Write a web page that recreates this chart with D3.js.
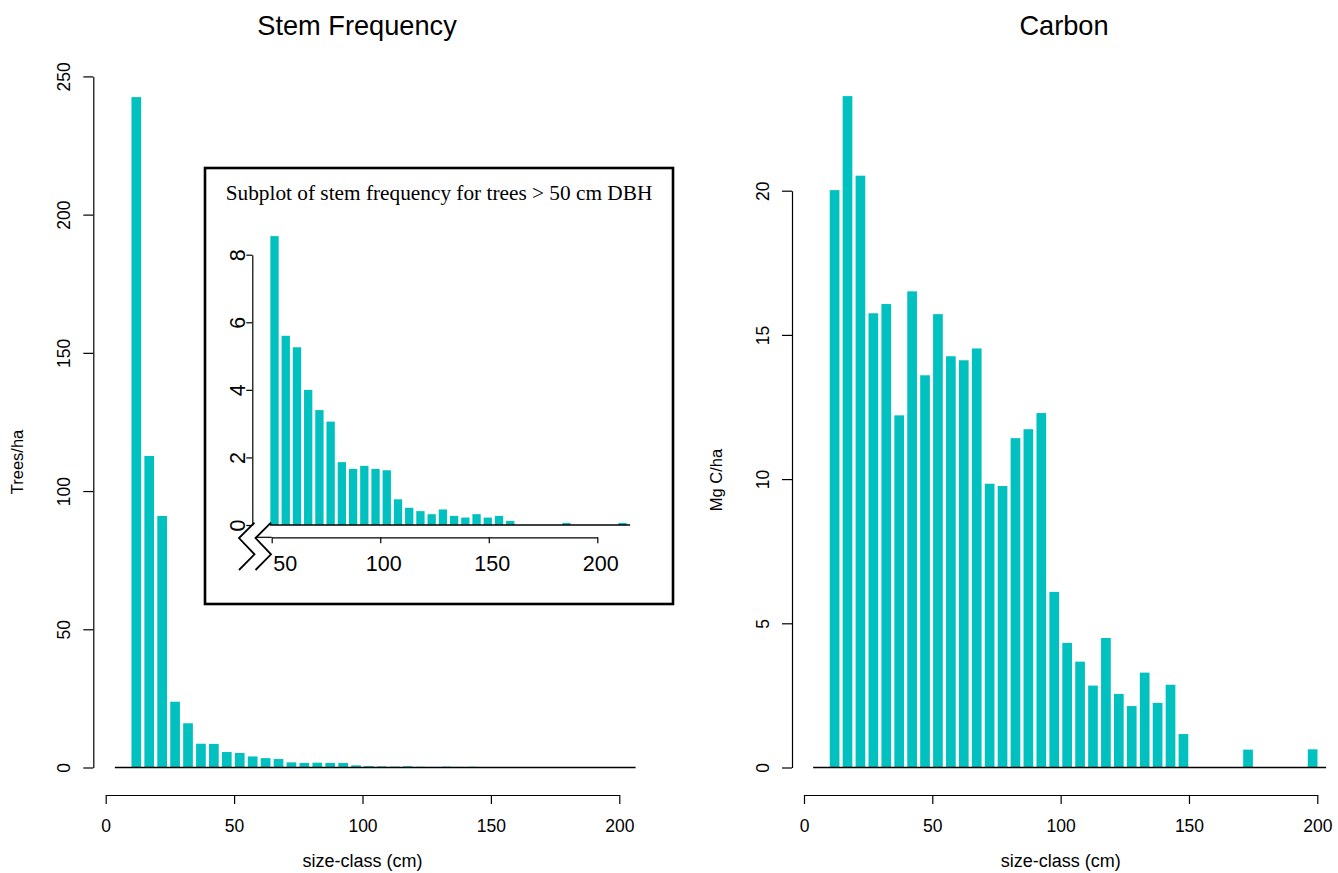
<!DOCTYPE html>
<html>
<head>
<meta charset="utf-8">
<script src="https://cdn.jsdelivr.net/npm/d3@7"></script>
<style>
  body { margin: 0; background: #fff; }
  text { font-family: "Liberation Sans", Arial, sans-serif; fill: #000; }
  .serif { font-family: "Liberation Serif", "Times New Roman", serif; }
</style>
</head>
<body>
<div id="chart"></div>
<script>
// size classes (cm, lower bound of each 5 cm class)
const classes = [10, 15, 20, 25, 30, 35, 40, 45, 50, 55, 60, 65, 70, 75, 80, 85, 90, 95, 100,
  105, 110, 115, 120, 125, 130, 135, 140, 145, 150, 155, 160, 165, 170, 175, 180, 185, 190, 195];

// trees per hectare in each class
const stems = [242.5, 112.7, 91, 23.8, 16, 8.6, 8.55, 5.6, 5.26, 4.0, 3.4, 3.06, 1.86, 1.66,
  1.75, 1.66, 1.62, 0.76, 0.51, 0.41, 0.32, 0.46, 0.27, 0.22, 0.32, 0.22, 0.27, 0.12,
  0, 0, 0, 0, 0.06, 0, 0, 0, 0, 0.06];

// carbon, Mg C per hectare in each class
const carbon = [20.02, 23.28, 20.52, 15.75, 16.07, 12.21, 16.51, 13.6, 15.72, 14.26, 14.12,
  14.53, 9.84, 9.76, 11.42, 11.73, 12.29, 6.09, 4.32, 3.67, 2.84, 4.49, 2.55, 2.13, 3.29,
  2.24, 2.87, 1.16, 0, 0, 0, 0, 0.62, 0, 0, 0, 0, 0.63];

// the subplot starts at this class
const insetFrom = 40;

const xTicks = [0, 50, 100, 150, 200];
const stemTicks = [0, 50, 100, 150, 200, 250];
const carbonTicks = [0, 5, 10, 15, 20];
const insetXTicks = [50, 100, 150, 200];
const insetYTicks = [0, 2, 4, 6, 8];

const barColor = "#00c0c0";
const tickFont = 17.5;

const svg = d3.select("#chart").append("svg")
  .attr("width", 1338)
  .attr("height", 873);

// vertical axis with R-style rotated labels
function leftAxis(g, scale, ticks, size, fontSize, labelOffset) {
  g.call(d3.axisLeft(scale).tickValues(ticks).tickSize(size).tickSizeOuter(0))
  g.select(".domain").attr("stroke", "#000").attr("stroke-width", 1.2);
  g.selectAll(".tick line").attr("stroke", "#000").attr("stroke-width", 1.2);
  g.selectAll(".tick text")
    .attr("x", null).attr("dy", null)
    .attr("text-anchor", "middle")
    .attr("transform", `translate(${-labelOffset},0) rotate(-90)`)
    .style("font-size", fontSize + "px")
    .style("font-family", null);
}

function bottomAxis(g, scale, ticks, size, fontSize, labelY) {
  g.call(d3.axisBottom(scale).tickValues(ticks).tickSize(size).tickSizeOuter(0))
  g.select(".domain").attr("stroke", "#000").attr("stroke-width", 1.2);
  g.selectAll(".tick line").attr("stroke", "#000").attr("stroke-width", 1.2);
  g.selectAll(".tick text")
    .attr("y", labelY).attr("dy", null)
    .style("font-size", fontSize + "px")
    .style("font-family", null);
}

function drawPanel(opt) {
  const x = d3.scaleLinear().domain([0, 200]).range(opt.xRange);
  const band = d3.scaleBand()
    .domain(classes)
    .range([x(9.4), x(200.7)])
    .paddingInner(0.25)
    .paddingOuter(0.125);
  const y = d3.scaleLinear().domain(opt.yDomain).range([767.5, opt.yTop]);

  // bars
  svg.append("g").selectAll("rect")
    .data(classes.map((c, i) => ({ c: c, v: opt.values[i] })))
    .enter()
    .append("rect")
    .attr("x", d => band(d.c))
    .attr("width", band.bandwidth())
    .attr("y", d => y(d.v))
    .attr("height", d => y(0) - y(d.v))
    .attr("fill", barColor);

  // baseline under the bars
  svg.append("line")
    .attr("x1", band.range()[0] - 15)
    .attr("x2", band.range()[1] + opt.baseRight)
    .attr("y1", y(0)).attr("y2", y(0))
    .attr("stroke", "#000").attr("stroke-width", 1.4);

  svg.append("g")
    .attr("transform", `translate(${opt.yAxisX},0)`)
    .call(g => leftAxis(g, y, opt.yTicks, 10, tickFont, 23.5));

  svg.append("g")
    .attr("transform", "translate(0,795)")
    .call(g => bottomAxis(g, x, xTicks, 9, tickFont, 37.3));

  svg.append("text")
    .attr("x", opt.titleX).attr("y", 34.5)
    .attr("text-anchor", "middle")
    .style("font-size", "27.2px")
    .text(opt.title);

  svg.append("text")
    .attr("x", (opt.xRange[0] + opt.xRange[1]) / 2).attr("y", 867)
    .attr("text-anchor", "middle")
    .style("font-size", "18px")
    .text("size-class (cm)");

  svg.append("text")
    .attr("transform", `translate(${opt.yAxisX - 70},${opt.yLabelY}) rotate(-90)`)
    .attr("text-anchor", "middle")
    .style("font-size", "16.5px")
    .text(opt.yLabel);
}

drawPanel({
  values: stems, xRange: [105.7, 619.3], yDomain: [0, 250], yTop: 76.4,
  yTicks: stemTicks, yAxisX: 93.3, baseRight: 14.5,
  title: "Stem Frequency", titleX: 357, yLabel: "Trees/ha", yLabelY: 462
});

drawPanel({
  values: carbon, xRange: [804, 1317.3], yDomain: [0, 20], yTop: 190.7,
  yTicks: carbonTicks, yAxisX: 792, baseRight: 7,
  title: "Carbon", titleX: 1064, yLabel: "Mg C/ha", yLabelY: 480
});

// ---- inset: stem frequency for the large trees ----
const insetClasses = classes.filter(c => c >= insetFrom);
const insetStems = stems.slice(classes.indexOf(insetFrom));

svg.append("rect")
  .attr("x", 205).attr("y", 168)
  .attr("width", 468).attr("height", 436)
  .attr("fill", "#fff")
  .attr("stroke", "#000").attr("stroke-width", 2.6);

svg.append("text")
  .attr("class", "serif")
  .attr("x", 439).attr("y", 200)
  .attr("text-anchor", "middle")
  .style("font-size", "21.3px")
  .text("Subplot of stem frequency for trees > 50 cm DBH");

const xI = d3.scaleLinear().domain([50, 200]).range([271.7, 597.3]);
const bI = d3.scaleBand()
  .domain(insetClasses)
  .range([268.9, 628.1])
  .paddingInner(0.26)
  .paddingOuter(0.13);
const yI = d3.scaleLinear().domain([0, 8]).range([525, 254.7]);

svg.append("g").selectAll("rect")
  .data(insetClasses.map((c, i) => ({ c: c, v: insetStems[i] })))
  .enter()
  .append("rect")
  .attr("x", d => bI(d.c))
  .attr("width", bI.bandwidth())
  .attr("y", d => yI(d.v))
  .attr("height", d => yI(0) - yI(d.v))
  .attr("fill", barColor);

svg.append("line")
  .attr("x1", bI.range()[0] + 1).attr("x2", bI.range()[1] + 2)
  .attr("y1", yI(0)).attr("y2", yI(0))
  .attr("stroke", "#000").attr("stroke-width", 1.4);

svg.append("g")
  .attr("transform", "translate(252.3,0)")
  .call(g => leftAxis(g, yI, insetYTicks, 6, 21.5, 7.5));

const insetAxisY = 537.3;
svg.append("g")
  .attr("transform", `translate(0,${insetAxisY})`)
  .call(g => bottomAxis(g, xI, insetXTicks, 6, 21.5, 33.5))
  .call(g => g.selectAll(".tick text")
    .attr("x", d => d === 50 ? 13 : 3));

// axis line continues left to the break mark
svg.append("line")
  .attr("x1", xI(50) - 16).attr("x2", xI(50))
  .attr("y1", insetAxisY).attr("y2", insetAxisY)
  .attr("stroke", "#000").attr("stroke-width", 1.2);

// axis break zigzags
const zig = [[0, -14.6], [-15.5, 0.7], [0, 17], [-15.5, 32.7]];
[xI(50) - 0.7, xI(50) - 17.2].forEach(x0 => {
  svg.append("path")
    .attr("d", d3.line()(zig.map(p => [x0 + p[0], insetAxisY + p[1]])))
    .attr("fill", "none")
    .attr("stroke", "#000")
    .attr("stroke-width", 1.8);
});
</script>
</body>
</html>
